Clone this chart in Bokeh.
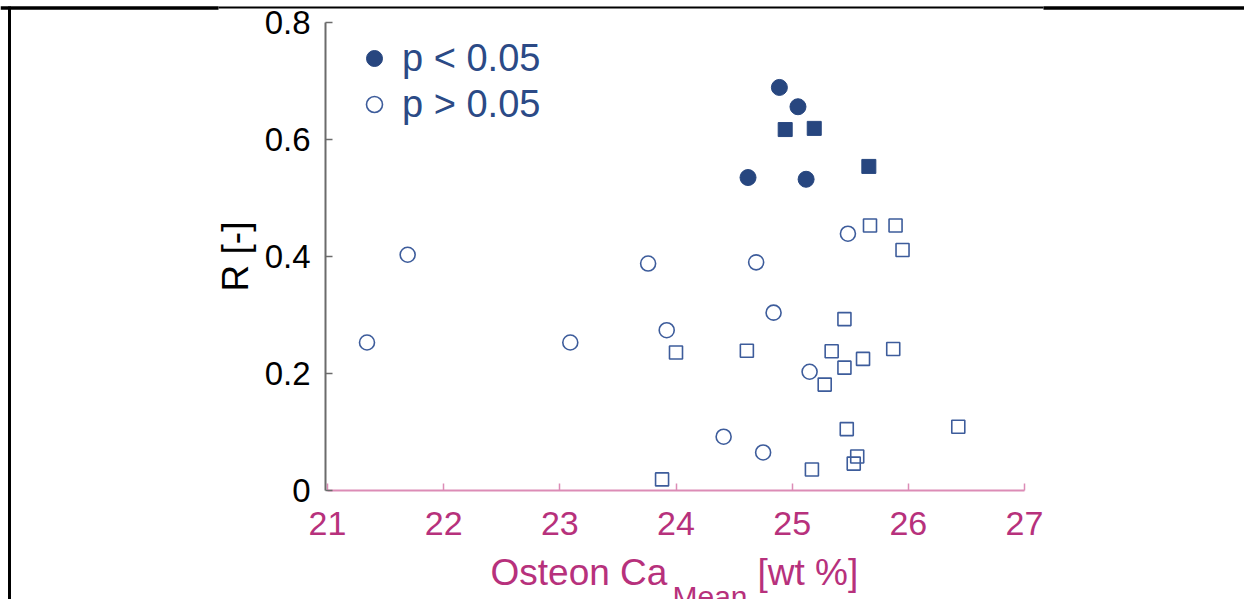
from bokeh.plotting import figure
from bokeh.models import (Range1d, LinearAxis, FixedTicker, Label, Legend, LegendItem)
from bokeh.embed import file_html
from bokeh.resources import INLINE

# ---------------- data ----------------
sig_circle_x = [24.89, 25.05, 24.62, 25.12]
sig_circle_y = [0.689, 0.656, 0.535, 0.532]
sig_square_x = [24.94, 25.19, 25.66]
sig_square_y = [0.617, 0.619, 0.554]
ns_circle_x = [21.34, 21.69, 23.09, 23.76, 23.92, 24.69, 24.84, 25.48, 25.15, 24.41, 24.75]
ns_circle_y = [0.253, 0.403, 0.253, 0.388, 0.274, 0.390, 0.304, 0.439, 0.203, 0.092, 0.065]
ns_square_x = [25.67, 25.89, 25.95, 25.45, 25.34, 25.87, 25.61, 25.45, 25.28, 25.47, 26.43,
               25.56, 25.53, 25.17, 24.00, 24.61, 23.88]
ns_square_y = [0.453, 0.453, 0.411, 0.293, 0.238, 0.242, 0.225, 0.210, 0.181, 0.105, 0.109,
               0.058, 0.046, 0.036, 0.236, 0.239, 0.019]

x_ticks = [21, 22, 23, 24, 25, 26, 27]
y_ticks = [0, 0.2, 0.4, 0.6, 0.8]
y_tick_labels = ["0", "0.2", "0.4", "0.6", "0.8"]
legend_labels = ["p < 0.05", "p > 0.05"]
x_label_main = "Osteon Ca"
x_label_sub = "Mean"
x_label_unit = "[wt %]"
y_label = "R [-]"

# ---------------- layout helpers (pixel -> data) ----------------
W, H = 1244, 599
SX = 697 / 6.0   # px per x unit
SY = 585.0       # px per y unit
def dx(px):
    return 21 + (px - 327) / SX
def dy(py):
    return (490 - py) / SY

FONT = "Liberation Sans"
DARK = "#27467f"
OPEN = "#3d5c9b"
PINK_LINE = "#dc8cb6"
PINK_TEXT = "#b7317c"

p = figure(width=W, height=H, x_range=Range1d(dx(0), dx(W)), y_range=Range1d(dy(H), dy(0)),
           output_backend="svg", toolbar_location=None, min_border=0,
           x_axis_type=None, y_axis_type=None)
p.outline_line_color = None
p.background_fill_color = "white"
p.border_fill_color = "white"

# screenshot frame lines
p.segment(x0=[dx(0), dx(1043)], y0=[dy(7.5)] * 2, x1=[dx(218), dx(W)], y1=[dy(7.5)] * 2,
          line_color="black", line_width=3.5)
p.segment(x0=[dx(218)], y0=[dy(7)], x1=[dx(1043)], y1=[dy(7)], line_color="black", line_width=2)
p.segment(x0=[dx(9)], y0=[dy(6)], x1=[dx(9)], y1=[dy(H)], line_color="black", line_width=3)

# axes
xaxis = LinearAxis(fixed_location=0, bounds=(21, 27), ticker=FixedTicker(ticks=x_ticks, minor_ticks=[]))
xaxis.axis_line_color = PINK_LINE
xaxis.axis_line_width = 2
xaxis.major_tick_line_color = PINK_LINE
xaxis.major_tick_line_width = 1.5
xaxis.major_tick_in = 7
xaxis.major_tick_out = 0
xaxis.minor_tick_line_color = None
xaxis.major_label_text_font = FONT
xaxis.major_label_text_font_size = "34px"
xaxis.major_label_text_color = PINK_TEXT
xaxis.major_label_standoff = 21
p.add_layout(xaxis, "below")

yaxis = LinearAxis(fixed_location=dx(325), bounds=(0, 0.8),
                   ticker=FixedTicker(ticks=y_ticks, minor_ticks=[]))
yaxis.major_label_overrides = {t: l for t, l in zip(y_ticks, y_tick_labels)}
yaxis.axis_line_color = "#6b6b6b"
yaxis.axis_line_width = 2
yaxis.major_tick_line_color = "#6b6b6b"
yaxis.major_tick_line_width = 1.5
yaxis.major_tick_in = 7
yaxis.major_tick_out = 0
yaxis.minor_tick_line_color = None
yaxis.major_label_text_font = FONT
yaxis.major_label_text_font_size = "33px"
yaxis.major_label_text_color = "black"
yaxis.major_label_standoff = 15
yaxis.axis_label = y_label
yaxis.axis_label_text_font = FONT
yaxis.axis_label_text_font_size = "37px"
yaxis.axis_label_text_font_style = "normal"
yaxis.axis_label_text_color = "black"
yaxis.axis_label_standoff = 6
p.add_layout(yaxis, "left")

# x-axis label with subscript
p.add_layout(Label(x=dx(490), y=dy(572), text=x_label_main, text_font=FONT, text_font_size="37px",
                   text_color=PINK_TEXT, text_baseline="alphabetic", text_align="left"))
p.add_layout(Label(x=dx(672), y=dy(579), text=x_label_sub, text_font=FONT, text_font_size="30px",
                   text_color=PINK_TEXT, text_baseline="top", text_align="left"))
p.add_layout(Label(x=dx(757), y=dy(572), text=x_label_unit, text_font=FONT, text_font_size="37px",
                   text_color=PINK_TEXT, text_baseline="alphabetic", text_align="left"))

# data
r_ns_sq = p.scatter(ns_square_x, ns_square_y, marker="square", size=13, fill_color=None,
                    line_color=OPEN, line_width=1.6)
r_ns_c = p.scatter(ns_circle_x, ns_circle_y, marker="circle", size=15, fill_color=None,
                   line_color=OPEN, line_width=1.6)
r_sig_sq = p.scatter(sig_square_x, sig_square_y, marker="square", size=14, fill_color=DARK,
                     line_color=DARK, line_width=1)
r_sig_c = p.scatter(sig_circle_x, sig_circle_y, marker="circle", size=16, fill_color=DARK,
                    line_color=DARK, line_width=1)

legend = Legend(items=[LegendItem(label=legend_labels[0], renderers=[r_sig_c]),
                       LegendItem(label=legend_labels[1], renderers=[r_ns_c])],
                location=(354, 472))
legend.label_text_font = FONT
legend.label_text_font_size = "38px"
legend.label_text_color = "#2b4a86"
legend.glyph_width = 40
legend.glyph_height = 46
legend.label_height = 46
legend.spacing = 0
legend.padding = 0
legend.margin = 0
legend.label_standoff = 8
legend.border_line_color = None
legend.background_fill_alpha = 0
p.add_layout(legend)

open("out.html", "w").write(file_html(p, INLINE))
